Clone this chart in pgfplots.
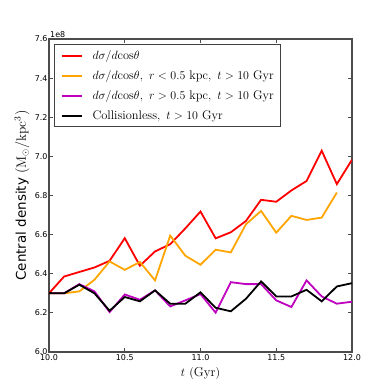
\documentclass[border=0pt]{standalone}
\usepackage{pgfplots}
\pgfplotsset{compat=1.18}
\usepackage{fontspec}
\newfontfamily\dejavu{DejaVu Sans}
\definecolor{mplorange}{RGB}{255,165,0}
\definecolor{mplmagenta}{RGB}{191,0,191}
\newcommand{\swatch}[1]{\textcolor{#1}{\rule[2.4bp]{20bp}{1.8bp}}}

% central density, in units of 1e8 Msun/kpc^3
\pgfplotstableread{
t     dens
10.0  6.300
10.1  6.386
10.2  6.409
10.3  6.432
10.4  6.466
10.5  6.582
10.6  6.441
10.7  6.514
10.8  6.551
10.9  6.632
11.0  6.718
11.1  6.581
11.2  6.612
11.3  6.670
11.4  6.778
11.5  6.768
11.6  6.826
11.7  6.874
11.8  7.029
11.9  6.858
12.0  6.983
}\sidmall
\pgfplotstableread{
t     dens
10.0  6.300
10.1  6.300
10.2  6.310
10.3  6.369
10.4  6.463
10.5  6.420
10.6  6.460
10.7  6.366
10.8  6.595
10.9  6.492
11.0  6.446
11.1  6.523
11.2  6.509
11.3  6.653
11.4  6.721
11.5  6.610
11.6  6.696
11.7  6.675
11.8  6.687
11.9  6.815
}\sidminner
\pgfplotstableread{
t     dens
10.0  6.300
10.1  6.300
10.2  6.347
10.3  6.310
10.4  6.204
10.5  6.294
10.6  6.267
10.7  6.315
10.8  6.233
10.9  6.264
11.0  6.296
11.1  6.201
11.2  6.357
11.3  6.347
11.4  6.347
11.5  6.264
11.6  6.230
11.7  6.366
11.8  6.284
11.9  6.247
12.0  6.257
}\sidmouter
\pgfplotstableread{
t     dens
10.0  6.301
10.1  6.300
10.2  6.344
10.3  6.300
10.4  6.211
10.5  6.281
10.6  6.259
10.7  6.315
10.8  6.247
10.9  6.247
11.0  6.305
11.1  6.226
11.2  6.208
11.3  6.272
11.4  6.361
11.5  6.284
11.6  6.284
11.7  6.318
11.8  6.259
11.9  6.335
12.0  6.352
}\cdm

\begin{document}
\begin{tikzpicture}
\begin{axis}[
    scale only axis,
    width=303bp, height=313bp,
    xmin=10, xmax=12, ymin=6.0, ymax=7.6,
    xtick={10,10.5,...,12},
    ytick={6.0,6.2,...,7.6},
    tick align=inside,
    major tick length=4bp,
    minor tick num=0,
    axis line style={black!70, line width=1.1bp},
    tick style={black!70, line width=0.8bp},
    ticklabel style={font=\dejavu\fontsize{8}{9.6}\selectfont},
    /pgf/number format/assume math mode=true,
    xticklabel style={/pgf/number format/.cd, fixed, fixed zerofill, precision=1},
    yticklabel style={/pgf/number format/.cd, fixed, fixed zerofill, precision=1},
    xticklabel shift=-1bp,
    yticklabel shift=-2bp,
]
\addplot[red, line width=1.8bp] table[x=t, y=dens] {\sidmall};
\addplot[mplorange, line width=1.8bp] table[x=t, y=dens] {\sidminner};
\addplot[mplmagenta, line width=1.8bp] table[x=t, y=dens] {\sidmouter};
\addplot[black, line width=1.8bp] table[x=t, y=dens] {\cdm};
\coordinate (sw) at (rel axis cs:0,0);
\coordinate (ne) at (rel axis cs:1,1);
\coordinate (xl) at (rel axis cs:0.5,0);
\coordinate (yl) at (rel axis cs:0,0.5);
\coordinate (tl) at (rel axis cs:0,1);
\coordinate (lg) at (rel axis cs:0.017,0.984);
\end{axis}
% legend
\node[anchor=north west, draw=black!75, line width=0.8bp, fill=white,
      inner xsep=7bp, inner ysep=1bp, font=\fontsize{12.5}{14}\selectfont] at (lg) {%
  \renewcommand{\arraystretch}{1.43}%
  \begin{tabular}{@{}l@{\hspace{11bp}}l@{}}
  \swatch{red} & $d\sigma/d\mathrm{cos}\theta$\\
  \swatch{mplorange} & $d\sigma/d\mathrm{cos}\theta,\ r<0.5\ \mathrm{kpc},\ t>10\ \mathrm{Gyr}$\\
  \swatch{mplmagenta} & $d\sigma/d\mathrm{cos}\theta,\ r>0.5\ \mathrm{kpc},\ t>10\ \mathrm{Gyr}$\\
  \swatch{black} & $\mathrm{Collisionless},\ t>10\ \mathrm{Gyr}$
  \end{tabular}};
\node[anchor=south west, inner sep=1bp, font=\dejavu\fontsize{8}{9.6}\selectfont] at (tl) {1e8};
\node[font=\fontsize{13}{15}\selectfont] at ([yshift=-21bp]xl) {$t\ (\mathrm{Gyr})$};
\node[rotate=90, font=\fontsize{13.5}{15}\selectfont] at ([xshift=-27bp]yl)
    {{\dejavu Central density} $(\mathrm{M_\odot/kpc^3})$};
\pgfresetboundingbox
\path ([shift={(-49bp,-40bp)}]sw) rectangle ([shift={(40bp,39bp)}]ne);
\end{tikzpicture}
\end{document}
